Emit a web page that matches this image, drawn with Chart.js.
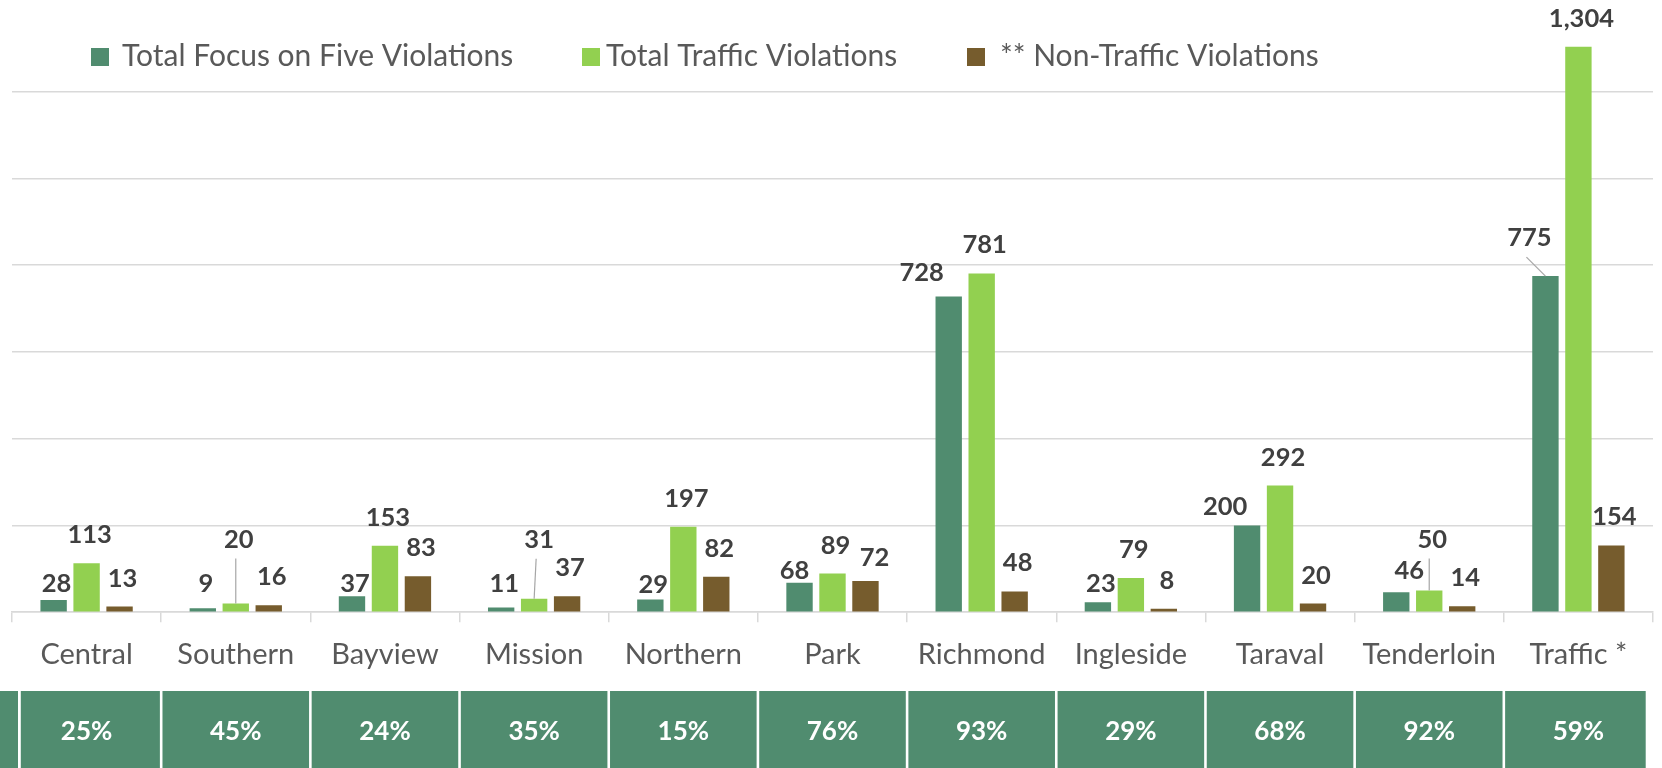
<!DOCTYPE html>
<html>
<head>
<meta charset="utf-8">
<script src="https://cdn.jsdelivr.net/npm/chart.js@4"></script>
<style>
  html, body { margin: 0; padding: 0; background: #ffffff; }
  #wrap { width: 1662px; height: 768px; position: relative; }
</style>
</head>
<body>
<div id="wrap"><canvas id="c" width="1662" height="768"></canvas></div>
<script>
// ---- data ----
const categories = ['Central', 'Southern', 'Bayview', 'Mission', 'Northern', 'Park', 'Richmond', 'Ingleside', 'Taraval', 'Tenderloin', 'Traffic *'];
const seriesNames = ['Total Focus on Five Violations', 'Total Traffic Violations', '** Non-Traffic Violations'];
const focusOnFive = [28, 9, 37, 11, 29, 68, 728, 23, 200, 46, 775];
const trafficViolations = [113, 20, 153, 31, 197, 89, 781, 79, 292, 50, 1304];
const nonTrafficViolations = [13, 16, 83, 37, 82, 72, 48, 8, 20, 14, 154];
const focusShare = ['25%', '45%', '24%', '35%', '15%', '76%', '93%', '29%', '68%', '92%', '59%'];
const yMax = 1400;
const yStep = 200;

// ---- styles ----
const COLORS = ['#508C6F', '#92D050', '#765C2D'];
const FONT = 'Lato';
const GRID = '#d9d9d9';

// label nudges (pixel offsets relative to default label spot), key = dataset-index
const labelNudges = {
  '0-0': { dx: 0, dy: 12 },
  '0-1': { dx: 0, dy: 4 },
  '0-2': { dx: 0, dy: 16 },
  '0-3': { dx: 0, dy: 5 },
  '0-4': { dx: 0, dy: 13 },
  '0-5': { dx: -8, dy: 16 },
  '0-6': { dx: -30, dy: 5 },
  '0-7': { dx: 0, dy: 10 },
  '0-8': { dx: -25, dy: 10 },
  '0-9': { dx: 10, dy: 7 },
  '0-10': { dx: -19, dy: -10, leader: true },
  '1-1': { dx: 0, dy: -36, leader: true },
  '1-3': { dx: 2, dy: -31, leader: true },
  '1-9': { dx: 0, dy: -23, leader: true },
  '2-5': { dx: 6, dy: 5 }
};

const valueLabels = {
  id: 'valueLabels',
  afterDatasetsDraw(chart) {
    const ctx = chart.ctx;
    ctx.save();
    ctx.font = 'bold 25.5px ' + FONT;
    ctx.fillStyle = '#404040';
    ctx.textAlign = 'center';
    ctx.textBaseline = 'alphabetic';
    chart.data.datasets.forEach((ds, di) => {
      const meta = chart.getDatasetMeta(di);
      meta.data.forEach((bar, i) => {
        const n = labelNudges[di + '-' + i] || { dx: 0, dy: 0 };
        const lx = bar.x + 3 + n.dx;
        const ly = bar.y - 20 + n.dy;
        if (n.leader) {
          ctx.save();
          ctx.strokeStyle = '#a6a6a6';
          ctx.lineWidth = 1.2;
          ctx.beginPath();
          ctx.moveTo(lx - 3, ly + 11);
          ctx.lineTo(bar.x, bar.y);
          ctx.stroke();
          ctx.restore();
        }
        ctx.fillText(ds.data[i].toLocaleString('en-US'), lx, ly);
      });
    });
    ctx.restore();
  }
};

const topLegend = {
  id: 'topLegend',
  afterDraw(chart) {
    const ctx = chart.ctx;
    const boxX = [91, 582, 967];
    const textX = [122, 606, 1000];
    ctx.save();
    ctx.font = '30px ' + FONT;
    ctx.textBaseline = 'middle';
    ctx.textAlign = 'left';
    chart.data.datasets.forEach((ds, i) => {
      ctx.fillStyle = ds.backgroundColor;
      ctx.fillRect(boxX[i], 48, 18, 18);
      ctx.fillStyle = '#595959';
      ctx.fillText(ds.label, textX[i], 56);
    });
    ctx.restore();
  }
};

const shareTable = {
  id: 'shareTable',
  afterDraw(chart) {
    const ctx = chart.ctx;
    const xs = chart.scales.x;
    const area = chart.chartArea;
    const w = (area.right - area.left) / categories.length;
    const top = 691, bottom = chart.height;
    ctx.save();
    // header stub at the far left
    ctx.fillStyle = COLORS[0];
    ctx.fillRect(0, top, area.left + 6, bottom - top);
    focusShare.forEach((txt, i) => {
      const c = xs.getPixelForValue(i);
      let l = c - w / 2, r = c + w / 2;
      if (i === 0) l = area.left + 7.5;
      if (i === categories.length - 1) r = area.right - 6;
      ctx.fillStyle = COLORS[0];
      ctx.fillRect(l + 1.3, top, r - l - 2.6, bottom - top);
      ctx.fillStyle = '#ffffff';
      ctx.font = 'bold 26px ' + FONT;
      ctx.textAlign = 'center';
      ctx.textBaseline = 'middle';
      ctx.fillText(txt, c, 732);
    });
    ctx.restore();
  }
};

new Chart(document.getElementById('c'), {
  type: 'bar',
  data: {
    labels: categories,
    datasets: [
      { label: seriesNames[0], data: focusOnFive, backgroundColor: COLORS[0] },
      { label: seriesNames[1], data: trafficViolations, backgroundColor: COLORS[1] },
      { label: seriesNames[2], data: nonTrafficViolations, backgroundColor: COLORS[2] }
    ]
  },
  options: {
    responsive: false,
    animation: false,
    devicePixelRatio: 1,
    categoryPercentage: 0.663,
    barPercentage: 0.8,
    layout: { padding: { left: 12, right: 9, top: 5, bottom: 81 } },
    plugins: {
      legend: { display: false },
      tooltip: { enabled: false }
    },
    scales: {
      x: {
        grid: { display: true, drawOnChartArea: false, drawTicks: true, tickLength: 10, color: GRID, lineWidth: 1.5, offset: true },
        border: { display: true, color: GRID, width: 1.5 },
        ticks: { color: '#595959', font: { family: FONT, size: 29 }, padding: 15, maxRotation: 0, autoSkip: false }
      },
      y: {
        min: 0,
        max: yMax,
        ticks: { display: false, stepSize: yStep },
        border: { display: false },
        grid: {
          drawTicks: false,
          lineWidth: 1.5,
          color: (c) => (c.tick && c.tick.value >= yMax) ? 'rgba(0,0,0,0)' : GRID
        }
      }
    }
  },
  plugins: [valueLabels, topLegend, shareTable]
});
</script>
</body>
</html>
